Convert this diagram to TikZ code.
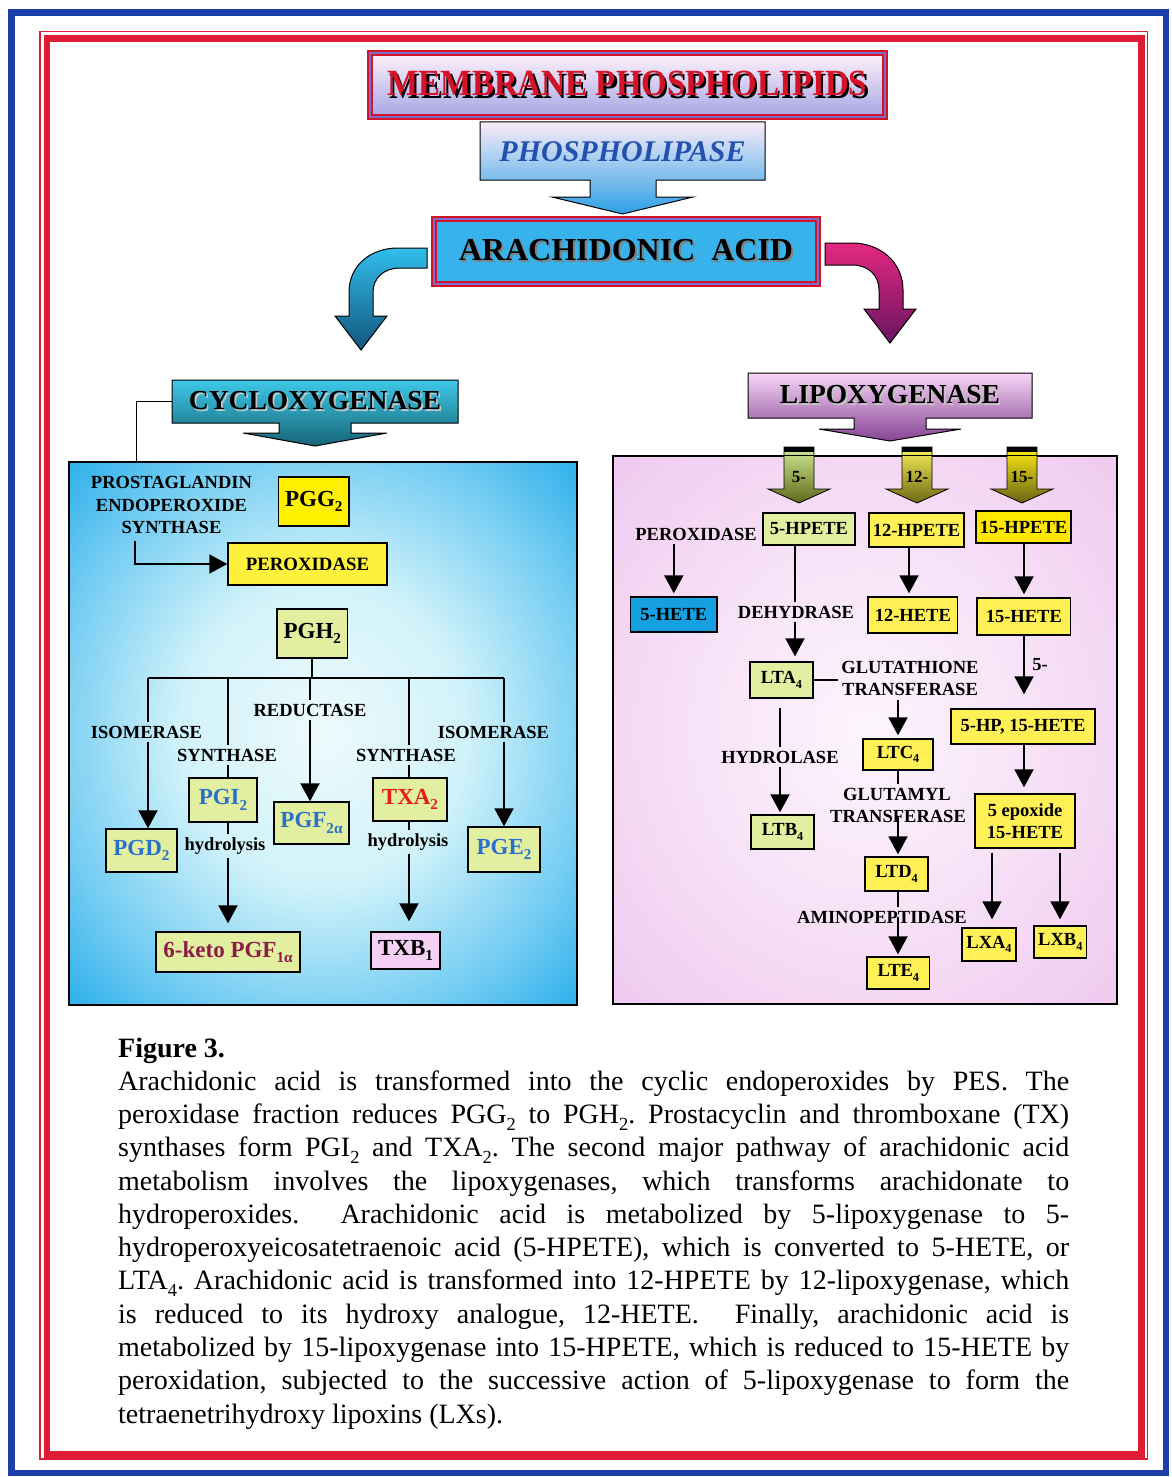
\documentclass[tikz,border=0pt]{standalone}
\usepackage{fontspec}
\usepackage{graphicx}
\setmainfont{Liberation Serif}
\usetikzlibrary{arrows.meta,calc}

% palette
\definecolor{frameblue}{RGB}{28,62,170}
\definecolor{framered}{RGB}{222,28,52}
\definecolor{titlered}{RGB}{214,18,40}
\definecolor{bandblue}{RGB}{120,110,205}
\definecolor{membtop}{RGB}{255,242,250}
\definecolor{membbot}{RGB}{165,165,228}
\definecolor{phostop}{RGB}{250,236,248}
\definecolor{phosbot}{RGB}{45,160,230}
\definecolor{phblue}{RGB}{36,80,176}
\definecolor{aatop}{RGB}{55,178,235}
\definecolor{aamid}{RGB}{232,247,252}
\definecolor{cyctop}{RGB}{62,200,232}
\definecolor{cycbot}{RGB}{22,100,118}
\definecolor{liptop}{RGB}{246,214,246}
\definecolor{lipbot}{RGB}{135,68,148}
\definecolor{lefttop}{RGB}{50,190,235}
\definecolor{leftbot}{RGB}{18,85,125}
\definecolor{righttop}{RGB}{228,40,128}
\definecolor{rightbot}{RGB}{105,20,98}
\definecolor{g5top}{RGB}{210,234,150}
\definecolor{g5bot}{RGB}{95,105,25}
\definecolor{g12top}{RGB}{250,240,90}
\definecolor{g12bot}{RGB}{110,105,20}
\definecolor{g15top}{RGB}{255,238,20}
\definecolor{g15bot}{RGB}{105,100,20}
\definecolor{boxyellow}{RGB}{255,240,0}
\definecolor{peroxyellow}{RGB}{255,240,60}
\definecolor{palegreen}{RGB}{226,238,160}
\definecolor{lyellow}{RGB}{255,240,85}
\definecolor{byellow}{RGB}{255,232,0}
\definecolor{hetblue}{RGB}{20,160,225}
\definecolor{txpink}{RGB}{245,208,245}
\definecolor{pgblue}{RGB}{40,112,204}
\definecolor{txred}{RGB}{228,28,30}
\definecolor{ketored}{RGB}{140,28,72}

% soft glows for the two pathway panels
\pgfdeclareradialshading{coxglow}{\pgfpoint{0bp}{0bp}}{%
  rgb(0bp)=(0.93,0.98,0.99); rgb(14bp)=(0.82,0.95,0.98); rgb(27bp)=(0.45,0.80,0.95);
  rgb(39bp)=(0.06,0.64,0.91); rgb(50bp)=(0.0,0.59,0.88); rgb(72bp)=(0.0,0.59,0.88)}
\pgfdeclareradialshading{loxglow}{\pgfpoint{0bp}{0bp}}{%
  rgb(0bp)=(0.99,0.96,0.99); rgb(16bp)=(0.97,0.89,0.97); rgb(34bp)=(0.94,0.80,0.94);
  rgb(50bp)=(0.93,0.77,0.93); rgb(72bp)=(0.93,0.77,0.93)}

% text with an offset drop shadow: offset, shadow colour, text colour, text
\newcommand{\shadowed}[4]{\makebox[0pt][l]{\hspace*{#1}\raisebox{-#1}{\color{#2}#4}}{\color{#3}#4}}
% lowered index for chemical names
\newcommand{\idx}[1]{\raisebox{-0.24em}{\scalebox{0.66}{#1}}}

\begin{document}
\begin{tikzpicture}[x=1pt,y=-1pt,
  lbl/.style={font=\fontsize{18.5}{22.5}\selectfont\bfseries, inner sep=3.5pt, text=black},
  boxbase/.style={draw=black, line width=1.4pt, inner sep=0pt, text=black},
  cbox/.style={boxbase, font=\fontsize{23}{26}\selectfont\bfseries},
  lbox/.style={boxbase, font=\fontsize{18.5}{22}\selectfont\bfseries},
  wh/.style 2 args={minimum width=#1pt, minimum height=#2pt},
  conn/.style={line width=2pt},
  arr/.style={line width=2pt, -{Triangle[width=19pt,length=18pt]}},
  titleframe/.style={draw=titlered, line width=1.6pt, double=bandblue, double distance=2.6pt},
  bigshape/.style={draw=black, line width=1pt},
  capline/.style={anchor=base west, inner sep=0pt, font=\fontsize{28}{33}\selectfont\frenchspacing},
]
\fill[white] (0,0) rectangle (1171,1477);
\useasboundingbox (0,0) rectangle (1171,1477);

% page frames
\draw[frameblue, line width=6.5pt] (11.5,12.5) rectangle (1166,1473);
\draw[framered, line width=1.6pt] (40,31.5) rectangle (1147.5,1459);
\draw[framered, line width=6.5pt] (47,38.5) rectangle (1141.5,1454.5);

% ---- top of the cascade ----
\node[titleframe, top color=membtop, bottom color=membbot, wh={515}{64},
      font=\fontsize{33}{36}\selectfont\bfseries] (memb) at (627.5,85)
  {\scalebox{1}[1.12]{\shadowed{2.2pt}{black}{titlered}{MEMBRANE PHOSPHOLIPIDS}}};

\shadedraw[bigshape, top color=phostop, bottom color=phosbot]
  (480,122) -- (765,122) -- (765,180) -- (656,180) -- (656,197) -- (693,197)
  -- (622.5,214) -- (552,197) -- (590,197) -- (590,180) -- (480,180) -- cycle;
\node[font=\fontsize{30}{33}\selectfont\bfseries\itshape, text=phblue] (phos) at (622.5,152) {PHOSPHOLIPASE};

\node[titleframe, top color=aatop, middle color=aamid, bottom color=aatop, wh={384}{65},
      font=\fontsize{32}{35}\selectfont\bfseries] (aa) at (626,251.5)
  {\shadowed{2pt}{black!50}{black}{ARACHIDONIC\ \ ACID}};

% bent arrows to the two pathways
\shadedraw[bigshape, top color=lefttop, bottom color=leftbot]
  (427,248) -- (398,248) .. controls (370,248) and (349,266) .. (349,292)
  -- (349,316) -- (335,316) -- (361,350) -- (387,316) -- (373,316) -- (373,292)
  .. controls (373,278) and (384,268) .. (400,268) -- (427,268) -- cycle;
\shadedraw[bigshape, top color=righttop, bottom color=rightbot]
  (825,243) -- (852,243) .. controls (880,243) and (903,262) .. (903,290)
  -- (903,309) -- (916,309) -- (890,343) -- (864,309) -- (879,309) -- (879,290)
  .. controls (879,275) and (868,265) .. (852,265) -- (825,265) -- cycle;

% ---- cyclooxygenase pathway ----
\node[draw=black, line width=1.4pt, shade, shading=coxglow, wh={508}{543}] (cox) at (323,733.5) {};

\shadedraw[bigshape, top color=cyctop, bottom color=cycbot]
  (172,380) -- (458,380) -- (458,423) -- (351,423) -- (351,433) -- (387,433)
  -- (315,446) -- (243,433) -- (279,433) -- (279,423) -- (172,423) -- cycle;
\node[font=\fontsize{27.5}{30}\selectfont\bfseries, wh={286}{43}] (cyc) at (315,401.5)
  {\shadowed{1.8pt}{white!55!gray}{black}{CYCLOXYGENASE}};
\draw[line width=1.5pt] (cyc.west) -| ($(cox.north west)+(68,0)$);

\node[lbl, align=center] (pes) at (171.5,505) {PROSTAGLANDIN\\ENDOPEROXIDE\\SYNTHASE};
\node[cbox, fill=boxyellow, wh={70.5}{49}] (pgg) at (313.8,501.5) {PGG\idx{2}};
\node[cbox, fill=peroxyellow, wh={159}{42}, font=\fontsize{18.8}{22}\selectfont\bfseries] (perox) at (307.5,564) {PEROXIDASE};
\coordinate (pesx) at (135,0);
\draw[arr, shorten <=4pt] (pesx |- pes.south) |- (perox.west);

\node[cbox, fill=palegreen, wh={70.5}{49}] (pgh) at (312.3,633.5) {PGH\idx{2}};
\coordinate (bA) at (148,678);
\coordinate (bB) at (228,678);
\coordinate (bC) at (310,678);
\coordinate (bD) at (409,678);
\coordinate (bE) at (504,678);
\draw[conn] (pgh.south) -- (pgh.south |- bA);
\draw[conn] (bA) -- (bE);

\node[lbl] (isoL) at (146.5,732) {ISOMERASE};
\node[lbl] (synL) at (227,755) {SYNTHASE};
\node[lbl] (redu) at (310,710) {REDUCTASE};
\node[lbl] (synR) at (406,755) {SYNTHASE};
\node[lbl] (isoR) at (493.5,732) {ISOMERASE};
\node[lbl] (hydL) at (225,846) {hydrolysis};
\node[lbl] (hydR) at (408,842) {hydrolysis};

\node[cbox, fill=palegreen, text=pgblue, wh={71}{43}] (pgd) at (141.5,850.5) {PGD\idx{2}};
\node[cbox, fill=palegreen, text=pgblue, wh={68}{44}] (pgi) at (223,800) {PGI\idx{2}};
\node[cbox, fill=palegreen, text=pgblue, wh={75}{42}] (pgf) at (311.5,823) {PGF\idx{2α}};
\node[cbox, fill=palegreen, text=txred, wh={74}{43}] (txa) at (410,799.5) {TXA\idx{2}};
\node[cbox, fill=palegreen, text=pgblue, wh={72}{45}] (pge) at (504,849.5) {PGE\idx{2}};
\node[cbox, fill=palegreen, text=ketored, wh={144}{40}] (keto) at (228,952) {6-keto PGF\idx{1α}};
\node[cbox, fill=txpink, wh={69}{37}] (txb) at (405.5,950.5) {TXB\idx{1}};

\draw[conn] (bA) -- (bA |- isoL.north);
\draw[arr] (bA |- isoL.south) -- (bA |- pgd.north);
\draw[conn] (bB) -- (bB |- synL.north);
\draw[conn] (bB |- synL.south) -- (bB |- pgi.north);
\draw[conn] (bB |- pgi.south) -- (bB |- hydL.north);
\draw[arr, shorten >=8pt] (bB |- hydL.south) -- (bB |- keto.north);
\draw[conn] (bC) -- (bC |- redu.north);
\draw[arr] (bC |- redu.south) -- (bC |- pgf.north);
\draw[conn] (bD) -- (bD |- synR.north);
\draw[conn] (bD |- synR.south) -- (bD |- txa.north);
\draw[conn] (bD |- txa.south) -- (bD |- hydR.north);
\draw[arr, shorten >=10pt] (bD |- hydR.south) -- (bD |- txb.north);
\draw[conn] (bE) -- (bE |- isoR.north);
\draw[arr] (bE |- isoR.south) -- (bE |- pge.north);

% ---- lipoxygenase pathway ----
\node[draw=black, line width=1.4pt, shade, shading=loxglow, wh={504}{548}] (lox) at (865,730) {};

\shadedraw[bigshape, top color=liptop, bottom color=lipbot]
  (748,373) -- (1032,373) -- (1032,418) -- (926,418) -- (926,429) -- (961,429)
  -- (890,441) -- (819,429) -- (854,429) -- (854,418) -- (748,418) -- cycle;
\node[font=\fontsize{27.5}{30}\selectfont\bfseries, wh={284}{45}] (lip) at (890,395.5)
  {\shadowed{1.8pt}{white!55!gray}{black}{LIPOXYGENASE}};

\foreach \cx/\ct/\cb/\lab/\nm in {799/g5top/g5bot/5-/a5, 917/g12top/g12bot/12-/a12, 1022/g15top/g15bot/15-/a15}{
  \shadedraw[draw=black, line width=0.8pt, top color=\ct, bottom color=\cb]
    (\cx-15,447) -- (\cx+15,447) -- (\cx+15,489) -- (\cx+31,489) -- (\cx,503)
    -- (\cx-31,489) -- (\cx-15,489) -- cycle;
  \fill[black] (\cx-15,447) rectangle (\cx+15,451.5);
  \node[font=\fontsize{17}{20}\selectfont\bfseries] (\nm) at (\cx,477) {\lab};
}
\draw[line width=1.4pt] (lox.north west) -- (lox.north east);

\node[lbox, fill=palegreen, wh={92}{32}] (hp5) at (809,529) {5-HPETE};
\node[lbox, fill=lyellow, wh={95}{34}] (hp12) at (916.5,530) {12-HPETE};
\node[lbox, fill=byellow, wh={95}{32}] (hp15) at (1023.5,527) {15-HPETE};
\node[lbl] (peroxl) at (696,534) {PEROXIDASE};
\node[lbox, fill=hetblue, wh={86.5}{35}] (het5) at (673.8,614.5) {5-HETE};
\node[lbox, fill=lyellow, wh={89.6}{36}] (het12) at (912.8,615) {12-HETE};
\node[lbox, fill=lyellow, wh={93.5}{37}] (het15) at (1023.8,616.5) {15-HETE};
\node[lbl] (dehy) at (796,612) {DEHYDRASE};
\node[lbox, fill=palegreen, wh={63}{36}] (lta) at (781.5,680) {LTA\idx{4}};
\node[lbl, align=center] (glut) at (910,678.5) {GLUTATHIONE\\TRANSFERASE};
\node[lbox, fill=lyellow, wh={70}{31}] (ltc) at (898,754.5) {LTC\idx{4}};
\node[lbl] (hydro) at (780,757) {HYDROLASE};
\node[lbox, fill=palegreen, wh={63}{34}] (ltb) at (782.5,832) {LTB\idx{4}};
\node[lbl] (gluta) at (897,794) {GLUTAMYL};
\node[lbl] (trans) at (898,816) {TRANSFERASE};
\node[lbox, fill=lyellow, wh={63}{34}] (ltd) at (896.5,874) {LTD\idx{4}};
\node[lbl] (amino) at (882,917) {AMINOPEPTIDASE};
\node[lbox, fill=lyellow, wh={62.5}{32}] (lte) at (898.3,973) {LTE\idx{4}};
\node[lbl] (five) at (1040,665) {5-};
\node[lbox, fill=lyellow, wh={144}{35}] (hp515) at (1023,726.5) {5-HP, 15-HETE};
\node[lbox, fill=lyellow, wh={100}{54}, align=center] (epo) at (1025,821) {5 epoxide\\15-HETE};
\node[lbox, fill=lyellow, wh={54}{33}] (lxa) at (989,944.5) {LXA\idx{4}};
\node[lbox, fill=lyellow, wh={52.5}{32}] (lxb) at (1060.3,942) {LXB\idx{4}};

\coordinate (x5) at (795,0);
\coordinate (x12) at (909,0);
\coordinate (x15) at (1024,0);
\coordinate (xa) at (780,0);
\coordinate (xc) at (898,0);
\coordinate (xl) at (992,0);
\coordinate (xr) at (1060,0);
\draw[arr, shorten >=3pt] (het5.north |- peroxl.south) -- (het5.north);
\draw[conn] (x5 |- hp5.south) -- (x5 |- dehy.north);
\draw[arr, shorten >=5pt] (x5 |- dehy.south) -- (x5 |- lta.north);
\draw[arr, shorten >=3pt] (x12 |- hp12.south) -- (x12 |- het12.north);
\draw[arr, shorten >=3pt] (x15 |- hp15.south) -- (x15 |- het15.north);
\draw[arr, shorten >=14pt] (x15 |- het15.south) -- (x15 |- hp515.north);
\draw[arr, shorten >=6pt] (x15 |- hp515.south) -- (x15 |- epo.north);
\draw[conn] (lta.east) -- (glut.west |- lta.east);
\draw[arr, shorten >=3pt] (xc |- glut.south) -- (xc |- ltc.north);
\draw[conn, shorten <=9pt] (xa |- lta.south) -- (xa |- hydro.north);
\draw[arr, shorten >=2pt] (xa |- hydro.south) -- (xa |- ltb.north);
\draw[conn] (xc |- ltc.south) -- (xc |- gluta.north);
\draw[arr, shorten >=2pt] (xc |- trans.center) -- (xc |- ltd.north);
\draw[conn] (xc |- ltd.south) -- (xc |- amino.north);
\draw[arr, shorten >=2pt] (xc |- amino.center) -- (xc |- lte.north);
\draw[arr, shorten <=4pt, shorten >=8pt] (xl |- epo.south) -- (xl |- lxa.north);
\draw[arr, shorten <=4pt, shorten >=6pt] (xr |- epo.south) -- (xr |- lxb.north);

% ---- caption ----
\node[capline, font=\fontsize{28}{33}\selectfont\bfseries] (cap0) at (118,1057) {Figure 3.};
\node[capline] (cap1) at (118,1090) {\makebox[951pt][s]{Arachidonic acid is transformed into the cyclic endoperoxides by PES. The}};
\node[capline] (cap2) at (118,1123.3) {\makebox[951pt][s]{peroxidase fraction reduces PGG\idx{2} to PGH\idx{2}. Prostacyclin and thromboxane (TX)}};
\node[capline] (cap3) at (118,1156.6) {\makebox[951pt][s]{synthases form PGI\idx{2} and TXA\idx{2}. The second major pathway of arachidonic acid}};
\node[capline] (cap4) at (118,1190) {\makebox[951pt][s]{metabolism involves the lipoxygenases, which transforms arachidonate to}};
\node[capline] (cap5) at (118,1223.2) {\makebox[951pt][s]{hydroperoxides.~ Arachidonic acid is metabolized by 5-lipoxygenase to 5-}};
\node[capline] (cap6) at (118,1256.5) {\makebox[951pt][s]{hydroperoxyeicosatetraenoic acid (5-HPETE), which is converted to 5-HETE, or}};
\node[capline] (cap7) at (118,1289.8) {\makebox[951pt][s]{LTA\idx{4}. Arachidonic acid is transformed into 12-HPETE by 12-lipoxygenase, which}};
\node[capline] (cap8) at (118,1323.1) {\makebox[951pt][s]{is reduced to its hydroxy analogue, 12-HETE.~ Finally, arachidonic acid is}};
\node[capline] (cap9) at (118,1356.4) {\makebox[951pt][s]{metabolized by 15-lipoxygenase into 15-HPETE, which is reduced to 15-HETE by}};
\node[capline] (cap10) at (118,1389.7) {\makebox[951pt][s]{peroxidation, subjected to the successive action of 5-lipoxygenase to form the}};
\node[capline] (cap11) at (118,1423) {tetraenetrihydroxy lipoxins (LXs).};
\end{tikzpicture}
\end{document}
